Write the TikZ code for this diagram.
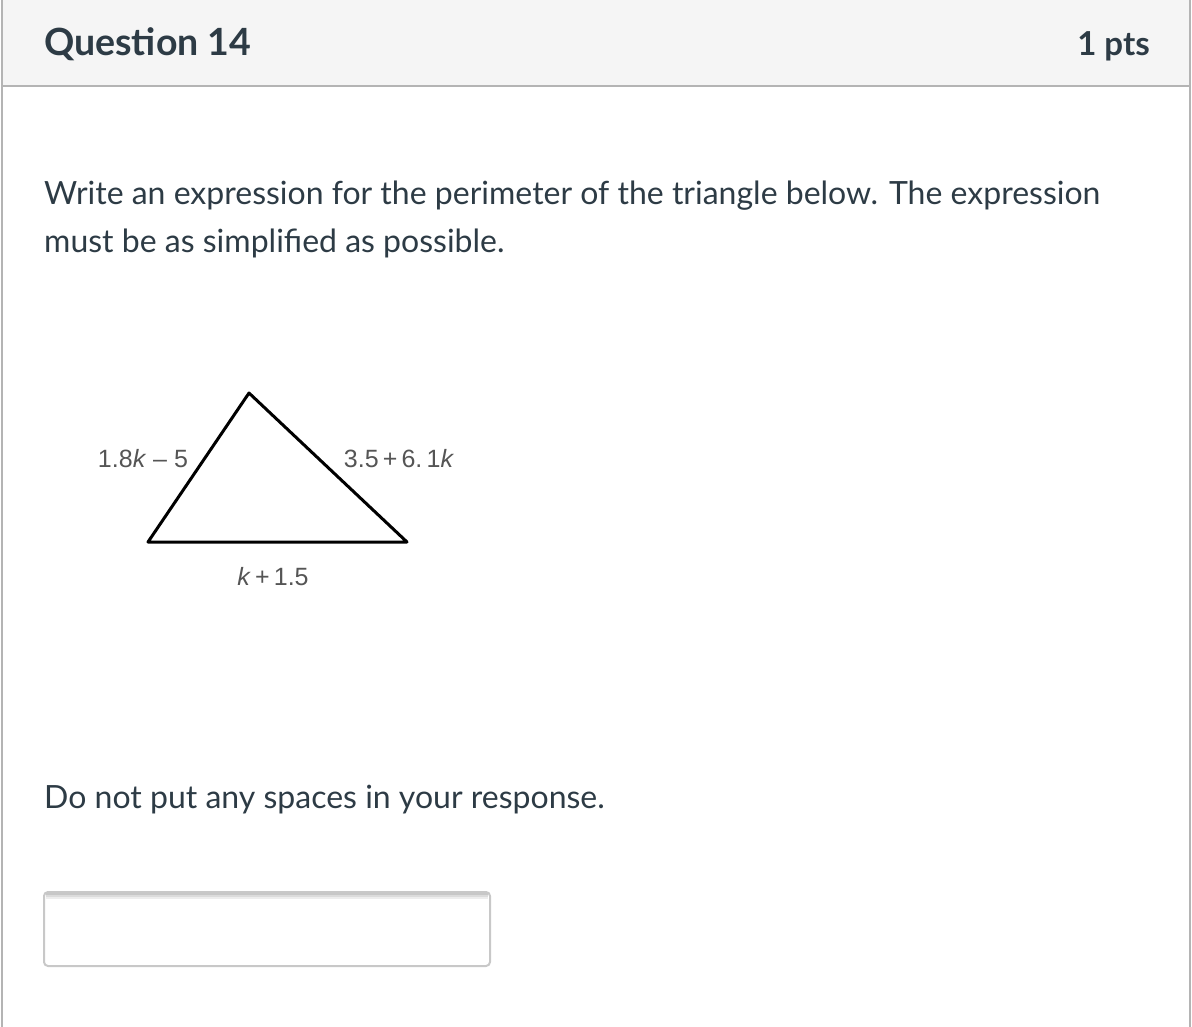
\documentclass[tikz,border=0pt]{standalone}
\usepackage{fontspec}
\setmainfont{Lato}
\newfontfamily\figfont{Liberation Sans}
\usetikzlibrary{positioning}

\definecolor{inktext}{HTML}{2D3B45}
\definecolor{headbg}{HTML}{F5F5F5}
\definecolor{frameline}{HTML}{B4B4B4}
\definecolor{figgray}{HTML}{555555}
\definecolor{boxline}{HTML}{C8C8C8}

\tikzset{
  bodytext/.style={anchor=base west,inner sep=0pt,text=inktext,font=\fontsize{32}{36}\selectfont},
  headtext/.style={inner sep=0pt,text=inktext,font=\fontsize{37.5}{40}\selectfont\bfseries},
  sidelabel/.style={inner sep=0pt,text=figgray,font=\figfont\fontsize{25}{28}\selectfont}
}

\begin{document}
\begin{tikzpicture}[x=1pt,y=-1pt]
\useasboundingbox (0,0) rectangle (1192,1027);
% The header bar
\fill[headbg] (2,0) rectangle (1190,86);
\draw[frameline,line width=2pt] (2,86) -- (1190,86);
\draw[frameline,line width=2pt] (2,0) -- (2,1027);
\draw[frameline,line width=2pt] (1190,0) -- (1190,1027);
\node[headtext,anchor=base west] (qtitle) at (44,56) {Question 14};
\node[headtext,anchor=base east,font=\fontsize{33}{36}\selectfont\bfseries] (qpoints) at (1150,56) {1 pts};
% The question text
\node[bodytext] (line1) at (44,205) {Write an expression for the perimeter of the triangle below. The expression};
\node[bodytext] (line2) at (44,253) {must be as simplified as possible.};
% The triangle
\coordinate (apex) at (249,393);
\coordinate (lcorner) at (148,542);
\coordinate (rcorner) at (407,542);
\draw[line width=3pt,line join=round] (apex) -- (rcorner) -- (lcorner) -- cycle;
\node[sidelabel,anchor=base] (sidea) at (143,467) {1.8\textit{k} – 5};
\node[sidelabel,anchor=base] (sideb) at (399,467) {3.5\,+\,6.\,1\textit{k}};
\node[sidelabel,anchor=base] (sidec) at (273,585) {\textit{k}\,+\,1.5};
% The note and the answer field
\node[bodytext] (note) at (44,808) {Do not put any spaces in your response.};
\foreach \dy/\tone in {2/22,4/14,6/7}
  \draw[black!\tone!white,line width=2pt] (46,892+\dy) -- (488,892+\dy);
\draw[boxline,line width=2pt,rounded corners=4pt] (44,892) rectangle (490,966);
\end{tikzpicture}
\end{document}
